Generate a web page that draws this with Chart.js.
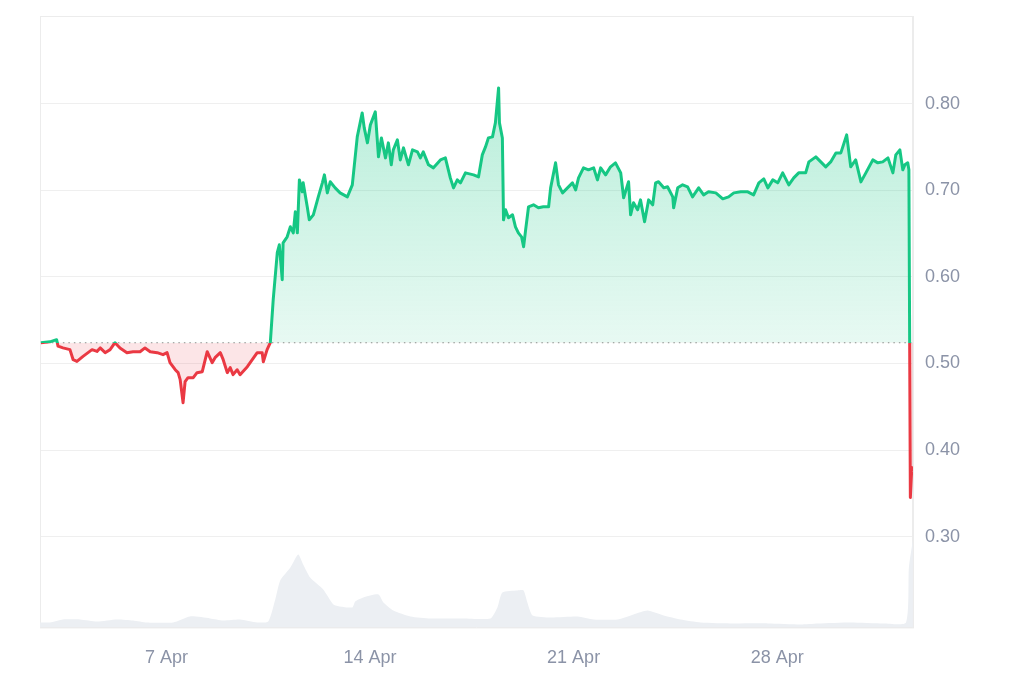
<!DOCTYPE html>
<html>
<head>
<meta charset="utf-8">
<script src="https://cdn.jsdelivr.net/npm/chart.js@4"></script>
<style>
  body { margin: 0; background: #fff; }
  #wrap { width: 1024px; height: 683px; }
</style>
</head>
<body>
<div id="wrap"><canvas id="chart"></canvas></div>
<script>
// price, day of April (fractional)
const priceDays = [
  2.68, 2.99, 3.22, 3.27, 3.44, 3.68, 3.79, 3.92, 4.13, 4.44, 4.61, 4.72, 4.89, 5.06, 5.23, 5.40,
  5.64, 5.85, 6.09, 6.26, 6.44, 6.68, 6.88, 7.02, 7.12, 7.30, 7.40, 7.47, 7.57, 7.64, 7.74, 7.92,
  8.05, 8.23, 8.40, 8.57, 8.67, 8.85, 8.95, 9.09, 9.19, 9.29, 9.43, 9.53, 9.78, 9.95, 10.12, 10.29,
  10.33, 10.46, 10.57, 10.67, 10.81, 10.88, 10.98, 11.01, 11.15, 11.26, 11.36, 11.43, 11.50, 11.57,
  11.67, 11.70, 11.84, 11.91, 12.05, 12.22, 12.36, 12.43, 12.53, 12.63, 12.80, 12.97, 13.22, 13.39,
  13.56, 13.73, 13.80, 13.91, 14.01, 14.18, 14.29, 14.39, 14.53, 14.63, 14.73, 14.80, 14.94, 15.04,
  15.15, 15.32, 15.46, 15.63, 15.73, 15.83, 16.01, 16.18, 16.42, 16.59, 16.76, 16.87, 17.00, 17.11,
  17.28, 17.56, 17.73, 17.86, 17.97, 18.07, 18.21, 18.31, 18.42, 18.45, 18.55, 18.59, 18.66, 18.76,
  18.90, 19.00, 19.10, 19.21, 19.28, 19.35, 19.45, 19.62, 19.79, 19.96, 20.14, 20.21, 20.38, 20.48,
  20.62, 20.79, 20.96, 21.07, 21.17, 21.34, 21.51, 21.69, 21.82, 21.93, 22.10, 22.27, 22.44, 22.62,
  22.72, 22.89, 22.96, 23.06, 23.20, 23.30, 23.44, 23.58, 23.72, 23.82, 23.92, 24.10, 24.23, 24.41,
  24.44, 24.58, 24.75, 24.92, 25.09, 25.30, 25.47, 25.64, 25.89, 26.13, 26.33, 26.51, 26.75, 26.99,
  27.19, 27.37, 27.54, 27.68, 27.85, 28.02, 28.19, 28.40, 28.57, 28.74, 28.98, 29.09, 29.33, 29.50,
  29.67, 29.84, 30.02, 30.19, 30.39, 30.53, 30.70, 30.88, 31.05, 31.29, 31.46, 31.63, 31.81, 31.98,
  32.08, 32.22, 32.32, 32.39, 32.49, 32.53, 32.58, 32.63, 32.67
];
const prices = [
  0.524, 0.525, 0.5275, 0.520, 0.518, 0.516, 0.5044, 0.5024, 0.5082, 0.516, 0.514, 0.518, 0.5125, 0.516, 0.524, 0.518,
  0.5125, 0.5136, 0.5136, 0.518, 0.5136, 0.5125, 0.5102, 0.5125, 0.501, 0.4928, 0.4894, 0.4813, 0.4547, 0.479, 0.4836, 0.4836,
  0.4894, 0.4905, 0.5136, 0.501, 0.5067, 0.5125, 0.5044, 0.4894, 0.4952, 0.4871, 0.4928, 0.4871, 0.4963, 0.5044, 0.5125, 0.5125,
  0.502, 0.516, 0.524, 0.5737, 0.628, 0.6372, 0.5968, 0.6395, 0.6464, 0.658, 0.651, 0.6753, 0.651, 0.7122,
  0.6984, 0.7088, 0.6811, 0.666, 0.6718, 0.6926, 0.7088, 0.718, 0.6972, 0.710, 0.703, 0.6972, 0.6926, 0.7065,
  0.7619, 0.7896, 0.7723, 0.755, 0.7757, 0.7908, 0.7388, 0.7607, 0.7376, 0.755, 0.7296, 0.7469, 0.7584, 0.7353,
  0.7492, 0.7296, 0.7469, 0.7446, 0.7376, 0.7446, 0.7296, 0.7261, 0.7353, 0.7376, 0.7145, 0.703, 0.7122, 0.7088,
  0.7203, 0.718, 0.7157, 0.7411, 0.7503, 0.7607, 0.7619, 0.7781, 0.8185, 0.7781, 0.7607, 0.666, 0.6776, 0.6684,
  0.6718, 0.658, 0.651, 0.6464, 0.6349, 0.6545, 0.6811, 0.6834, 0.6799, 0.6811, 0.6811, 0.703, 0.7319, 0.7065,
  0.6972, 0.703, 0.7088, 0.7007, 0.7145, 0.7261, 0.7238, 0.7261, 0.7122, 0.7261, 0.718, 0.7273, 0.7319, 0.7203,
  0.6915, 0.710, 0.6718, 0.6857, 0.6776, 0.6891, 0.6637, 0.6891, 0.6834, 0.7088, 0.710, 0.703, 0.7042, 0.6926,
  0.6799, 0.703, 0.7065, 0.7042, 0.6926, 0.703, 0.6949, 0.6984, 0.6972, 0.6903, 0.6926, 0.6972, 0.6984, 0.6984,
  0.6949, 0.7088, 0.7134, 0.703, 0.7122, 0.7088, 0.7203, 0.7065, 0.7145, 0.7203, 0.7203, 0.733, 0.7388, 0.733,
  0.7273, 0.733, 0.7434, 0.7434, 0.7642, 0.7273, 0.7353, 0.7099, 0.7203, 0.7353, 0.7319, 0.733, 0.7376, 0.7203,
  0.7411, 0.7469, 0.7238, 0.7296, 0.7319, 0.7238, 0.345, 0.3797, 0.375
];

// trading volume (M), same day scale
const volumeDays = [
  2.65, 2.99, 3.44, 4.03, 4.61, 5.30, 5.85, 6.33, 7.23, 7.81, 8.50, 8.95, 9.53, 10.12, 10.50, 10.74,
  10.91, 11.26, 11.53, 11.70, 11.94, 12.39, 12.74, 12.97, 13.39, 13.49, 13.77, 14.29, 14.46, 14.80,
  15.39, 16.08, 17.21, 18.14, 18.38, 18.55, 19.07, 19.28, 19.41, 19.59, 20.21, 21.14, 21.69, 22.51,
  23.06, 23.54, 24.10, 24.68, 25.37, 26.51, 27.68, 28.81, 29.40, 30.53, 31.67, 32.43, 32.53, 32.67
];
const volumes = [
  2.5, 2.5, 4, 4, 3, 4, 3.5, 2.5, 2.5, 5.5, 4.5, 3.5, 4, 2.5, 3, 14,
  23.5, 30, 36.5, 31.5, 25, 19, 11.5, 10.5, 10, 13, 15, 16.5, 12.5, 8.5,
  5.5, 4.5, 4.5, 4.5, 10, 17.5, 18.5, 18.5, 12.5, 6, 5, 5.5, 4, 4,
  6.5, 8.5, 6, 4, 2.5, 2, 2, 1.5, 2, 2.5, 2, 2.5, 30, 44
];

const openPrice = 0.524;
const priceTicks = [0.3, 0.4, 0.5, 0.6, 0.7, 0.8];
const dateTickDays = [7, 14, 21, 28];
const dateTickLabels = ['7 Apr', '14 Apr', '21 Apr', '28 Apr'];

const GREEN = '#16c784';
const RED = '#ea3943';
const LABEL = '#8b93a7';
const FONT = { family: 'Helvetica, Arial, sans-serif', size: 18 };

function basePixel(chart) {
  return chart.scales.y.getPixelForValue(openPrice);
}

function lineColor(ctx) {
  const chart = ctx.chart;
  const area = chart.chartArea;
  if (!area) return GREEN;
  const f = Math.min(1, Math.max(0, (basePixel(chart) - area.top) / (area.bottom - area.top)));
  const g = chart.ctx.createLinearGradient(0, area.top, 0, area.bottom);
  g.addColorStop(0, GREEN);
  g.addColorStop(f, GREEN);
  g.addColorStop(f, RED);
  g.addColorStop(1, RED);
  return g;
}

function priceFill(ctx) {
  const chart = ctx.chart;
  const area = chart.chartArea;
  if (!area) return { value: openPrice, above: 'rgba(22,199,132,0.2)', below: 'rgba(234,57,67,0.12)' };
  const g = chart.ctx.createLinearGradient(0, area.top, 0, basePixel(chart));
  g.addColorStop(0, 'rgba(22,199,132,0.36)');
  g.addColorStop(1, 'rgba(22,199,132,0.1)');
  return { value: openPrice, above: g, below: 'rgba(234,57,67,0.13)' };
}

// light frame round the plot
const framePlugin = {
  id: 'frame',
  beforeDatasetsDraw(chart) {
    const a = chart.chartArea;
    const c = chart.ctx;
    c.save();
    c.strokeStyle = '#ececec';
    c.lineWidth = 1;
    c.strokeRect(a.left + 0.5, a.top + 0.5, a.right - a.left, a.bottom - a.top);
    c.restore();
  }
};

new Chart(document.getElementById('chart'), {
  type: 'line',
  data: {
    datasets: [
      {
        data: priceDays.map((d, i) => ({ x: d, y: prices[i] })),
        borderColor: lineColor,
        borderWidth: 3,
        fill: priceFill,
        pointRadius: 0,
        tension: 0,
        borderJoinStyle: 'round',
        order: 0
      },
      {
        data: [{ x: priceDays[0], y: openPrice }, { x: priceDays[priceDays.length - 1], y: openPrice }],
        borderColor: '#8f8f8f',
        borderWidth: 1.2,
        borderDash: [1.5, 4],
        pointRadius: 0,
        fill: false,
        order: 1
      },
      {
        data: volumeDays.map((d, i) => ({ x: d, y: volumes[i] })),
        yAxisID: 'vol',
        borderWidth: 0,
        backgroundColor: 'rgb(236,239,243)',
        fill: 'origin',
        pointRadius: 0,
        tension: 0.2,
        order: 2
      }
    ]
  },
  options: {
    responsive: true,
    maintainAspectRatio: false,
    animation: false,
    layout: { padding: { left: 40, top: 16, right: 52, bottom: -6 } },
    plugins: { legend: { display: false }, tooltip: { enabled: false } },
    scales: {
      x: {
        type: 'linear',
        min: 2.65,
        max: 32.67,
        afterBuildTicks: s => { s.ticks = dateTickDays.map(v => ({ value: v })); },
        ticks: {
          autoSkip: false,
          maxRotation: 0,
          padding: 20,
          color: LABEL,
          font: FONT,
          callback: (v, i) => dateTickLabels[i]
        },
        grid: { display: false, drawTicks: false },
        border: { display: true, color: '#ececec' }
      },
      y: {
        position: 'right',
        min: 0.195,
        max: 0.9016,
        afterBuildTicks: s => { s.ticks = priceTicks.map(v => ({ value: v })); },
        afterFit: s => { s.paddingTop = 0; s.paddingBottom = 0; },
        ticks: {
          padding: 12,
          color: LABEL,
          font: FONT,
          callback: v => v.toFixed(2)
        },
        grid: { color: '#efefef', drawTicks: false },
        border: { display: true, color: '#ececec' }
      },
      vol: {
        display: false,
        min: 0,
        max: 306
      }
    }
  },
  plugins: [framePlugin]
});
</script>
</body>
</html>
